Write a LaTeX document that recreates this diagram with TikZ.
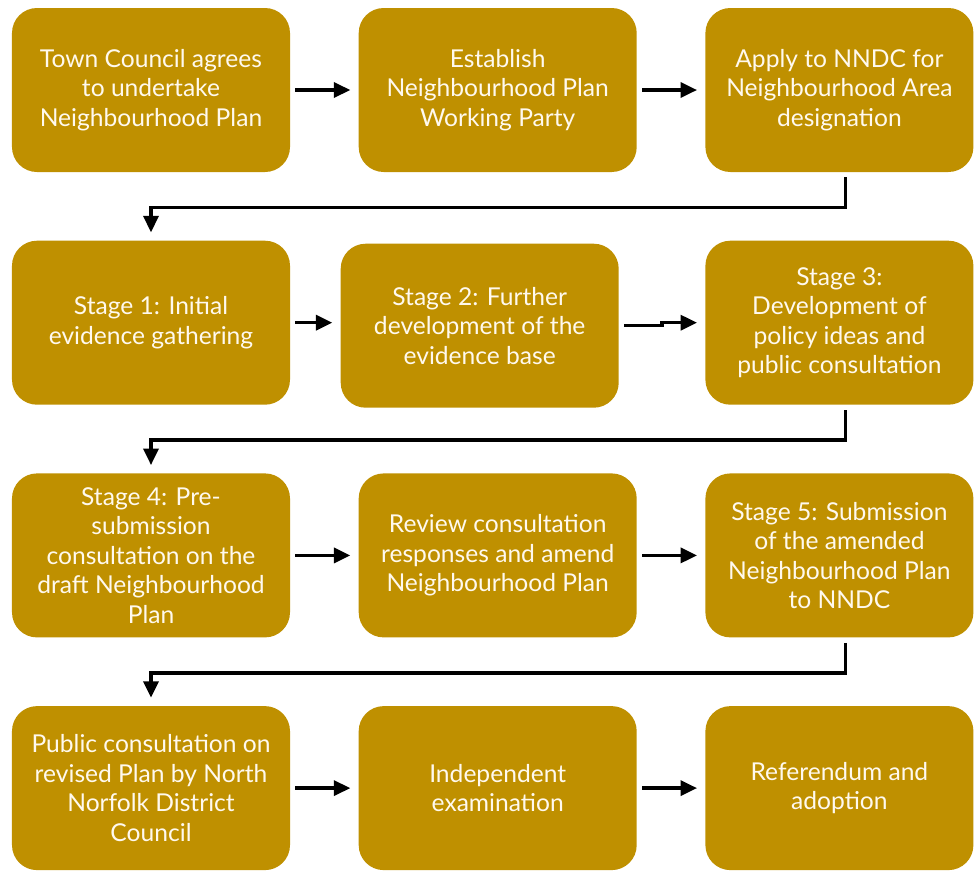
\documentclass[tikz,border=0pt]{standalone}
\usepackage{fontspec}
\setmainfont{Lato}
\definecolor{PlanGold}{HTML}{BF9000}
\definecolor{PlanCream}{HTML}{FFF9EE}
\definecolor{PlanBlack}{HTML}{000000}
\usetikzlibrary{arrows.meta,positioning,calc}
\tikzset{
    % Rounded gold boxes
    stage/.style={
        rectangle,
        rounded corners=0.5cm,
        draw=none,
        fill=PlanGold,
        text=PlanCream,
        minimum width=5.56cm,
        minimum height=3.28cm,
        align=center,
        font=\fontsize{14}{16.8}\selectfont
    },
    stage edge/.style={
        stage,
        minimum width=5.36cm
    },
    arrow/.style={
        -{Triangle[length=3.3mm,width=3mm]},
        line width=2pt,
        color=PlanBlack,
        shorten <=0.1cm,
        shorten >=0.16cm
    }
}

\begin{document}
\begin{tikzpicture}[node distance=1.36cm and 1.36cm]
        \useasboundingbox (-3.02,1.80) rectangle (16.46,-15.60);

        % Row 1: setting up
        \node[stage] (council) {Town Council agrees\\to undertake\\Neighbourhood Plan};
        \node[stage, right=of council] (party) {Establish\\Neighbourhood Plan\\Working Party};
        \node[stage edge, right=of party] (apply) {Apply to NNDC for\\Neighbourhood Area\\designation};

        % Row 2: evidence and ideas
        \node[stage, below=of council] (stage1) {Stage 1: Initial\\evidence gathering};
        \node[stage, right=1.0cm of stage1, yshift=-0.06cm] (stage2) {Stage 2: Further\\development of the\\evidence base};
        \node[stage edge, below=of apply] (stage3) {Stage 3:\\Development of\\policy ideas and\\public consultation};

        % Row 3: pre-submission
        \node[stage, below=of stage1] (stage4) {Stage 4: Pre-\\submission\\consultation on the\\draft Neighbourhood\\Plan};
        \node[stage, right=of stage4] (review) {Review consultation\\responses and amend\\Neighbourhood Plan};
        \node[stage edge, right=of review] (stage5) {Stage 5: Submission\\of the amended\\Neighbourhood Plan\\to NNDC};

        % Row 4: final steps
        \node[stage, below=of stage4] (public) {Public consultation on\\revised Plan by North\\Norfolk District\\Council};
        \node[stage, right=of public] (exam) {Independent\\examination};
        \node[stage edge, right=of exam] (referendum) {Referendum and\\adoption};

        % Arrows
        \draw[arrow] (council) -- (party);
        \draw[arrow] (party) -- (apply);
        \draw[arrow] ([xshift=0.12cm]apply.south) -- ++(0,-0.7) -| (stage1.north);
        \draw[arrow] (stage1.east) -- (stage1.east -| stage2.west);
        \draw[arrow] (stage2.east) -- ++(0.86,0) |- (stage3.west);
        \draw[arrow] ([xshift=0.12cm]stage3.south) -- ++(0,-0.7) -| (stage4.north);
        \draw[arrow] (stage4) -- (review);
        \draw[arrow] (review) -- (stage5);
        \draw[arrow] ([xshift=0.12cm]stage5.south) -- ++(0,-0.7) -| (public.north);
        \draw[arrow] (public) -- (exam);
        \draw[arrow] (exam) -- (referendum);
    \end{tikzpicture}
\end{document}
